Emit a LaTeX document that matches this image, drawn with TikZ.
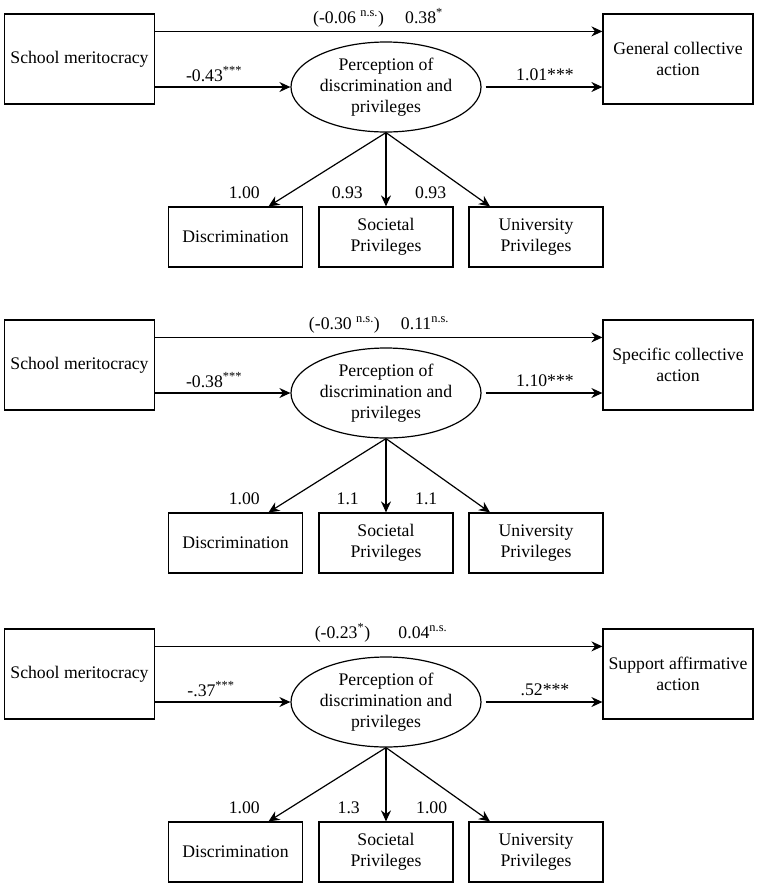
\documentclass[tikz,border=0pt]{standalone}
\usepackage{fontspec}
\setmainfont{Liberation Serif}
\usetikzlibrary{shapes.geometric,arrows.meta}

\begin{document}
\begin{tikzpicture}[x=1pt,y=-1pt,
    every node/.style={font=\fontsize{17.7}{21}\selectfont},
    varbox/.style={draw,line width=1.2pt,align=center,inner sep=2pt},
    outbox/.style={varbox,minimum width=150pt,minimum height=90pt},
    indbox/.style={varbox,minimum width=134pt,minimum height=60pt},
    latent/.style={draw,ellipse,line width=1.2pt,align=center,inner sep=0pt,
        minimum width=190pt,minimum height=90pt},
    coef/.style={inner sep=0pt},
    arr/.style={-{Stealth[length=11pt,width=10pt]},line width=1.2pt}]
    \useasboundingbox (0,0) rectangle (758,887);

    % Model 1: general collective action
    \node[outbox] (sm1) at (79.5,59) {School meritocracy};
    \node[outbox] (ca1) at (678,59) {General collective\\action};
    \node[latent] (pd1) at (386,87) {Perception of\\discrimination and\\privileges};
    \node[indbox] (dis1) at (235.5,237) {Discrimination};
    \node[indbox] (soc1) at (386,237) {Societal\\Privileges};
    \node[indbox] (uni1) at (536,237) {University\\Privileges};

    % paths
    \draw[arr] ([yshift=-18pt]sm1.north east) -- ([yshift=-18pt]ca1.north west);
    \draw[arr] (sm1.east |- pd1.west) -- (pd1.west);
    \draw[arr] ([xshift=4pt]pd1.east) -- (pd1.east -| ca1.west);
    \draw[arr] (pd1.south) -- ([xshift=33pt]dis1.north);
    \draw[arr] (pd1.south) -- (soc1.north);
    \draw[arr] (pd1.south) -- ([xshift=-46pt]uni1.north);

    % coefficients
    \node[coef,anchor=base] (dir1) at (378,23) {(-0.06 \textsuperscript{n.s.})\hspace{1.2em}0.38\textsuperscript{*}};
    \node[coef,anchor=base] (in1) at (214,81) {-0.43\textsuperscript{***}};
    \node[coef,anchor=base] (out1) at (545,80) {1.01***};
    \node[coef,anchor=base east] (ld1a) at (260,198) {1.00};
    \node[coef,anchor=base east] (ld1b) at (363,198) {0.93};
    \node[coef,anchor=base west] (ld1c) at (415,198) {0.93};

    % Model 2: specific collective action
    \node[outbox] (sm2) at (79.5,365) {School meritocracy};
    \node[outbox] (ca2) at (678,365) {Specific collective\\action};
    \node[latent] (pd2) at (386,393) {Perception of\\discrimination and\\privileges};
    \node[indbox] (dis2) at (235.5,543) {Discrimination};
    \node[indbox] (soc2) at (386,543) {Societal\\Privileges};
    \node[indbox] (uni2) at (536,543) {University\\Privileges};

    % paths
    \draw[arr] ([yshift=-18pt]sm2.north east) -- ([yshift=-18pt]ca2.north west);
    \draw[arr] (sm2.east |- pd2.west) -- (pd2.west);
    \draw[arr] ([xshift=4pt]pd2.east) -- (pd2.east -| ca2.west);
    \draw[arr] (pd2.south) -- ([xshift=33pt]dis2.north);
    \draw[arr] (pd2.south) -- (soc2.north);
    \draw[arr] (pd2.south) -- ([xshift=-46pt]uni2.north);

    % coefficients
    \node[coef,anchor=base] (dir2) at (379,329) {(-0.30 \textsuperscript{n.s.})\hspace{1.2em}0.11\textsuperscript{n.s.}};
    \node[coef,anchor=base] (in2) at (214,387) {-0.38\textsuperscript{***}};
    \node[coef,anchor=base] (out2) at (545,386) {1.10***};
    \node[coef,anchor=base east] (ld2a) at (260,504) {1.00};
    \node[coef,anchor=base east] (ld2b) at (359,504) {1.1};
    \node[coef,anchor=base west] (ld2c) at (415,504) {1.1};

    % Model 3: support for affirmative action
    \node[outbox] (sm3) at (79.5,674) {School meritocracy};
    \node[outbox] (ca3) at (678,674) {Support affirmative\\action};
    \node[latent] (pd3) at (386,702) {Perception of\\discrimination and\\privileges};
    \node[indbox] (dis3) at (235.5,852) {Discrimination};
    \node[indbox] (soc3) at (386,852) {Societal\\Privileges};
    \node[indbox] (uni3) at (536,852) {University\\Privileges};

    % paths
    \draw[arr] ([yshift=-18pt]sm3.north east) -- ([yshift=-18pt]ca3.north west);
    \draw[arr] (sm3.east |- pd3.west) -- (pd3.west);
    \draw[arr] ([xshift=4pt]pd3.east) -- (pd3.east -| ca3.west);
    \draw[arr] (pd3.south) -- ([xshift=33pt]dis3.north);
    \draw[arr] (pd3.south) -- (soc3.north);
    \draw[arr] (pd3.south) -- ([xshift=-46pt]uni3.north);

    % coefficients
    \node[coef,anchor=base] (dir3) at (381,638) {(-0.23\textsuperscript{*})\hspace{1.6em}0.04\textsuperscript{n.s.}};
    \node[coef,anchor=base] (in3) at (211,696) {-.37\textsuperscript{***}};
    \node[coef,anchor=base] (out3) at (545,695) {.52***};
    \node[coef,anchor=base east] (ld3a) at (260,813) {1.00};
    \node[coef,anchor=base east] (ld3b) at (360,813) {1.3};
    \node[coef,anchor=base west] (ld3c) at (416,813) {1.00};
\end{tikzpicture}
\end{document}
